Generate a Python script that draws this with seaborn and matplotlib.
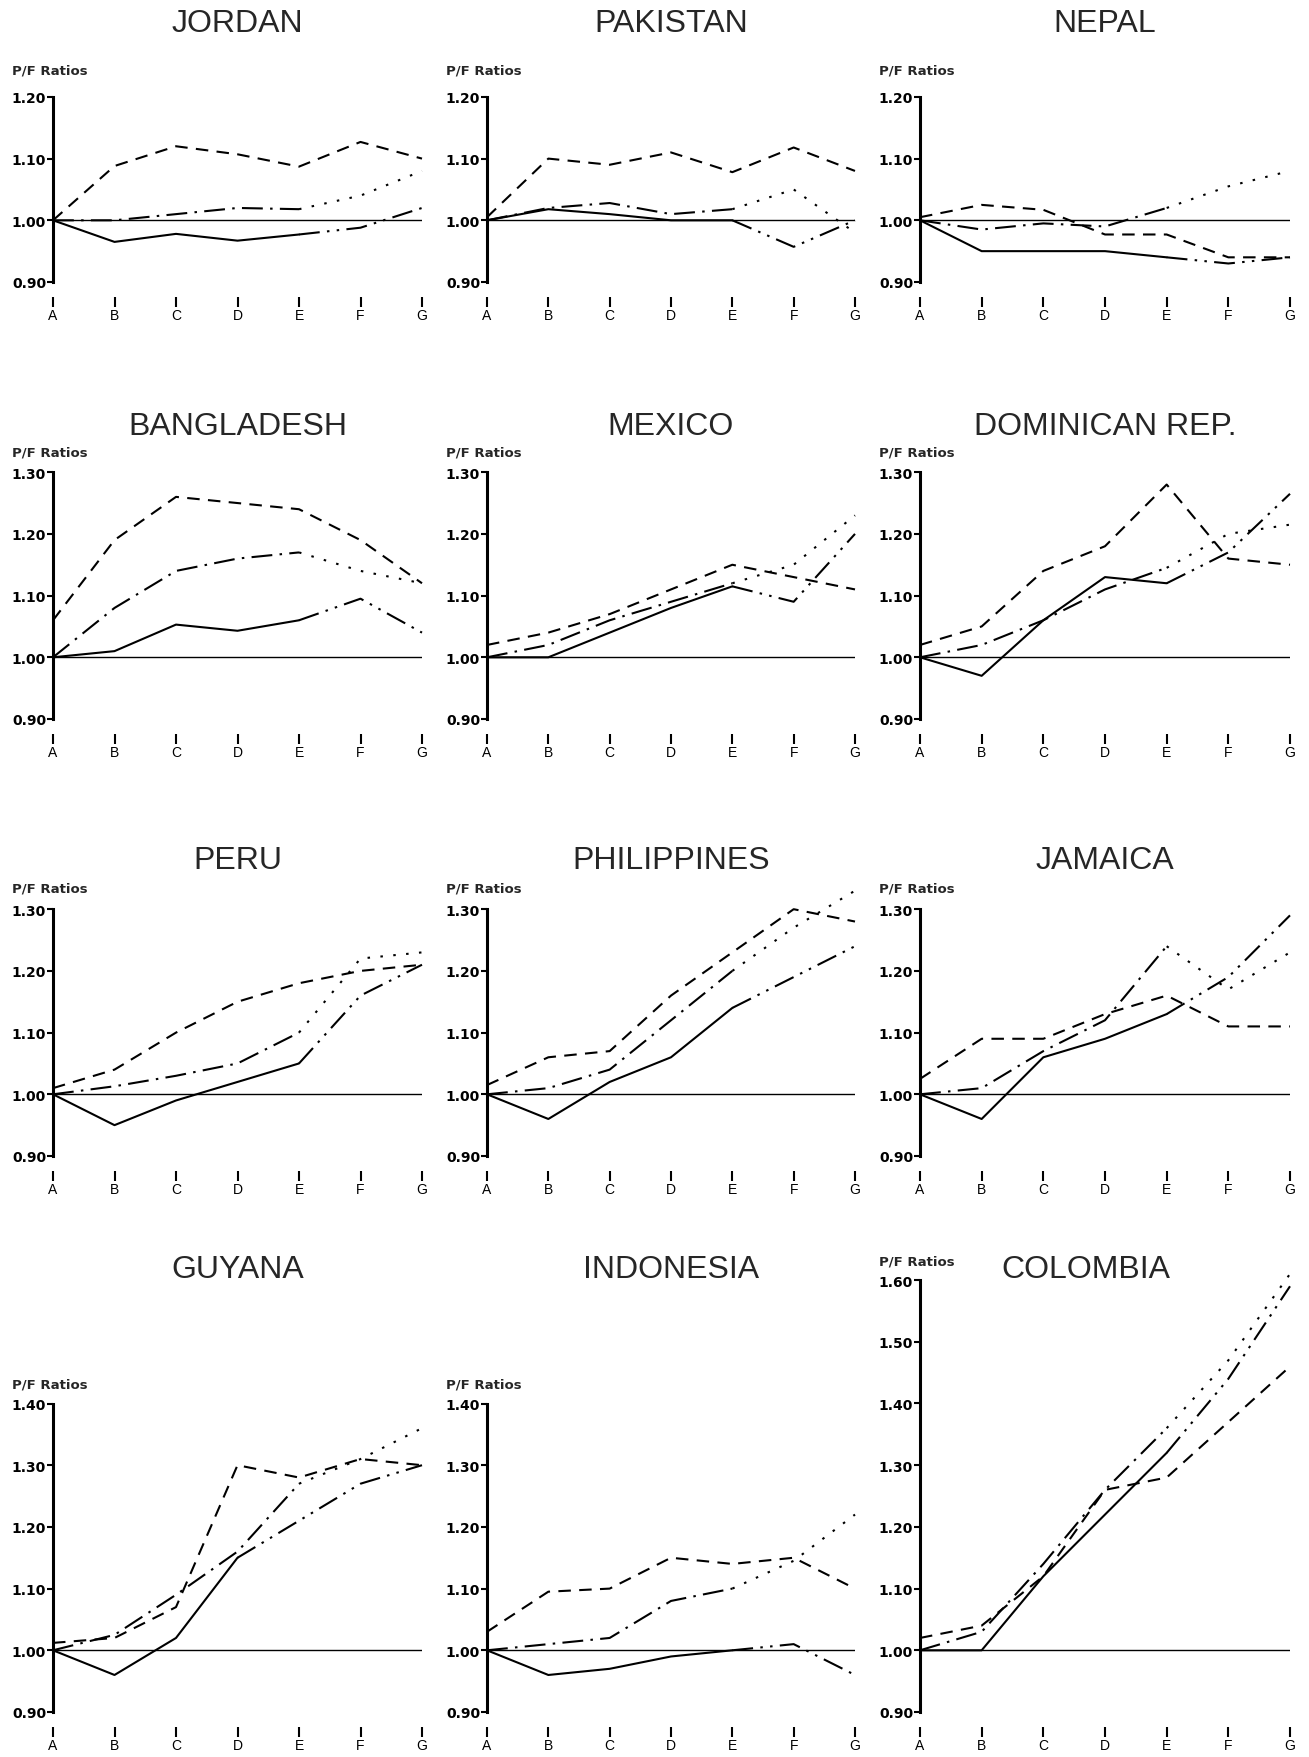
import numpy as np
import pandas as pd
import matplotlib.pyplot as plt
import seaborn as sns

sns.set_style('white')
plt.rcParams['font.family'] = ['Liberation Sans', 'DejaVu Sans']

# ---- data ----
letters = ['A', 'B', 'C', 'D', 'E', 'F', 'G']
countries = ['JORDAN', 'PAKISTAN', 'NEPAL',
             'BANGLADESH', 'MEXICO', 'DOMINICAN REP.',
             'PERU', 'PHILIPPINES', 'JAMAICA',
             'GUYANA', 'INDONESIA', 'COLOMBIA']
y_top = [1.20, 1.20, 1.20,
         1.30, 1.30, 1.30,
         1.30, 1.30, 1.30,
         1.40, 1.40, 1.60]
# index where the solid / dash-dot lines switch to their second style
solid_switch = [4, 4, 4, 4, 4, 4, 4, 4, 4, 3, 4, 4]
dashdot_switch = [4, 4, 4, 4, 4, 4, 4, 4, 4, 4, 4, 4]

solid_vals = [
    [1.00, 0.965, 0.978, 0.967, 0.977, 0.988, 1.02],
    [1.00, 1.018, 1.01, 1.00, 1.00, 0.957, 1.00],
    [1.00, 0.95, 0.95, 0.95, 0.94, 0.93, 0.94],
    [1.00, 1.01, 1.053, 1.043, 1.06, 1.095, 1.04],
    [1.00, 1.00, 1.04, 1.08, 1.115, 1.09, 1.20],
    [1.00, 0.97, 1.06, 1.13, 1.12, 1.17, 1.265],
    [1.00, 0.95, 0.99, 1.02, 1.05, 1.16, 1.21],
    [1.00, 0.96, 1.02, 1.06, 1.14, 1.19, 1.24],
    [1.00, 0.96, 1.06, 1.09, 1.13, 1.19, 1.29],
    [1.00, 0.96, 1.02, 1.15, 1.21, 1.27, 1.30],
    [1.00, 0.96, 0.97, 0.99, 1.00, 1.01, 0.96],
    [1.00, 1.00, 1.12, 1.22, 1.32, 1.44, 1.59],
]
dashdot_vals = [
    [1.00, 1.00, 1.01, 1.02, 1.018, 1.04, 1.08],
    [1.00, 1.02, 1.028, 1.01, 1.018, 1.05, 0.98],
    [1.00, 0.985, 0.995, 0.99, 1.02, 1.055, 1.08],
    [1.00, 1.08, 1.14, 1.16, 1.17, 1.14, 1.12],
    [1.00, 1.02, 1.06, 1.09, 1.12, 1.15, 1.23],
    [1.00, 1.02, 1.06, 1.11, 1.145, 1.20, 1.215],
    [1.00, 1.013, 1.03, 1.05, 1.10, 1.22, 1.23],
    [1.00, 1.01, 1.04, 1.12, 1.20, 1.27, 1.33],
    [1.00, 1.01, 1.07, 1.12, 1.24, 1.17, 1.23],
    [1.00, 1.025, 1.09, 1.16, 1.27, 1.31, 1.36],
    [1.00, 1.01, 1.02, 1.08, 1.10, 1.145, 1.22],
    [1.00, 1.03, 1.14, 1.26, 1.36, 1.47, 1.61],
]
dashed_vals = [
    [1.00, 1.088, 1.12, 1.107, 1.087, 1.127, 1.10],
    [1.005, 1.10, 1.09, 1.11, 1.078, 1.118, 1.08],
    [1.005, 1.025, 1.017, 0.977, 0.977, 0.94, 0.94],
    [1.06, 1.19, 1.26, 1.25, 1.24, 1.19, 1.12],
    [1.02, 1.04, 1.07, 1.11, 1.15, 1.13, 1.11],
    [1.02, 1.05, 1.14, 1.18, 1.28, 1.16, 1.15],
    [1.01, 1.04, 1.10, 1.15, 1.18, 1.20, 1.21],
    [1.015, 1.06, 1.07, 1.16, 1.23, 1.30, 1.28],
    [1.025, 1.09, 1.09, 1.13, 1.16, 1.11, 1.11],
    [1.012, 1.02, 1.07, 1.30, 1.28, 1.31, 1.30],
    [1.03, 1.095, 1.10, 1.15, 1.14, 1.15, 1.10],
    [1.02, 1.04, 1.12, 1.26, 1.28, 1.37, 1.46],
]

# ---- layout (pixels of the 1309x1758 page) ----
W, H = 1309, 1758
col_x = [(53, 422), (487, 855), (920, 1290)]
row_bottom = [283, 720, 1157, 1713]
title_y = [24, 427, 861, 1270]
label_gap = [27, 20, 21, 19]
px_per_unit = 617

LW = 1.5
DASHED = (0, (6, 4))
DASHDOT = (0, (10, 3.5, 1.2, 3.5))
DOTTED = (0, (1.2, 5))
DASHDOTDOT = (0, (10, 3.5, 1.2, 3.5, 1.2, 3.5))
small_font = ['DejaVu Sans']

fig = plt.figure(figsize=(W / 100, H / 100), dpi=100)

for i, name in enumerate(countries):
    r, c = divmod(i, 3)
    x0, x1 = col_x[c]
    yb = row_bottom[r]
    yt = yb - (y_top[i] - 0.90) * px_per_unit
    ax = fig.add_axes([x0 / W, 1 - yb / H, (x1 - x0) / W, (yb - yt) / H])

    df = pd.DataFrame({'x': np.arange(7), 'solid': solid_vals[i],
                       'dashdot': dashdot_vals[i], 'dashed': dashed_vals[i]})
    ks = solid_switch[i]
    kd = dashdot_switch[i]

    ax.axhline(1.0, color='black', lw=1.0, zorder=1)
    sns.lineplot(data=df, x='x', y='dashed', ax=ax, color='black', lw=LW,
                 linestyle=DASHED, clip_on=False)
    sns.lineplot(data=df.iloc[:kd + 1], x='x', y='dashdot', ax=ax, color='black',
                 lw=LW, linestyle=DASHDOT, clip_on=False)
    sns.lineplot(data=df.iloc[kd:], x='x', y='dashdot', ax=ax, color='black',
                 lw=LW, linestyle=DOTTED, clip_on=False)
    sns.lineplot(data=df.iloc[:ks + 1], x='x', y='solid', ax=ax, color='black',
                 lw=LW, linestyle='-', clip_on=False)
    sns.lineplot(data=df.iloc[ks:], x='x', y='solid', ax=ax, color='black',
                 lw=LW, linestyle=DASHDOTDOT, clip_on=False)

    ax.set_xlim(0, 6)
    ax.set_ylim(0.90, y_top[i])
    ax.set_xlabel('')
    ax.set_ylabel('')
    yt_vals = np.round(np.arange(0.90, y_top[i] + 0.001, 0.10), 2)
    ax.set_yticks(yt_vals)
    ax.set_yticklabels([f'{v:.2f}' for v in yt_vals], fontsize=10,
                       fontweight='bold', family=small_font)
    ax.set_xticks(range(7))
    ax.set_xticklabels(letters, fontsize=10, fontweight='bold', family=small_font)

    for s in ['top', 'right']:
        ax.spines[s].set_visible(False)
    ax.spines['left'].set_linewidth(2.2)
    ax.spines['left'].set_color('black')
    ax.spines['bottom'].set_position(('outward', 11))
    ax.spines['bottom'].set_visible(False)
    ax.tick_params(axis='y', direction='out', length=4, width=1.5, pad=1,
                   left=True, colors='black')
    ax.tick_params(axis='x', direction='out', length=7, width=1.5, pad=1,
                   bottom=True, colors='black')
    ax.grid(False)

    # title and axis caption
    tx = (x0 + x1) / 2
    if name == 'COLOMBIA':
        tx = 1086
    fig.text(tx / W, 1 - title_y[r] / H, name, ha='center', va='center',
             fontsize=23)
    fig.text((x0 - 41) / W, 1 - (yt - label_gap[r]) / H, 'P/F Ratios',
             ha='left', va='center', fontsize=9.5, fontweight='bold',
             family=small_font)

fig.savefig('out.png', dpi=100)
